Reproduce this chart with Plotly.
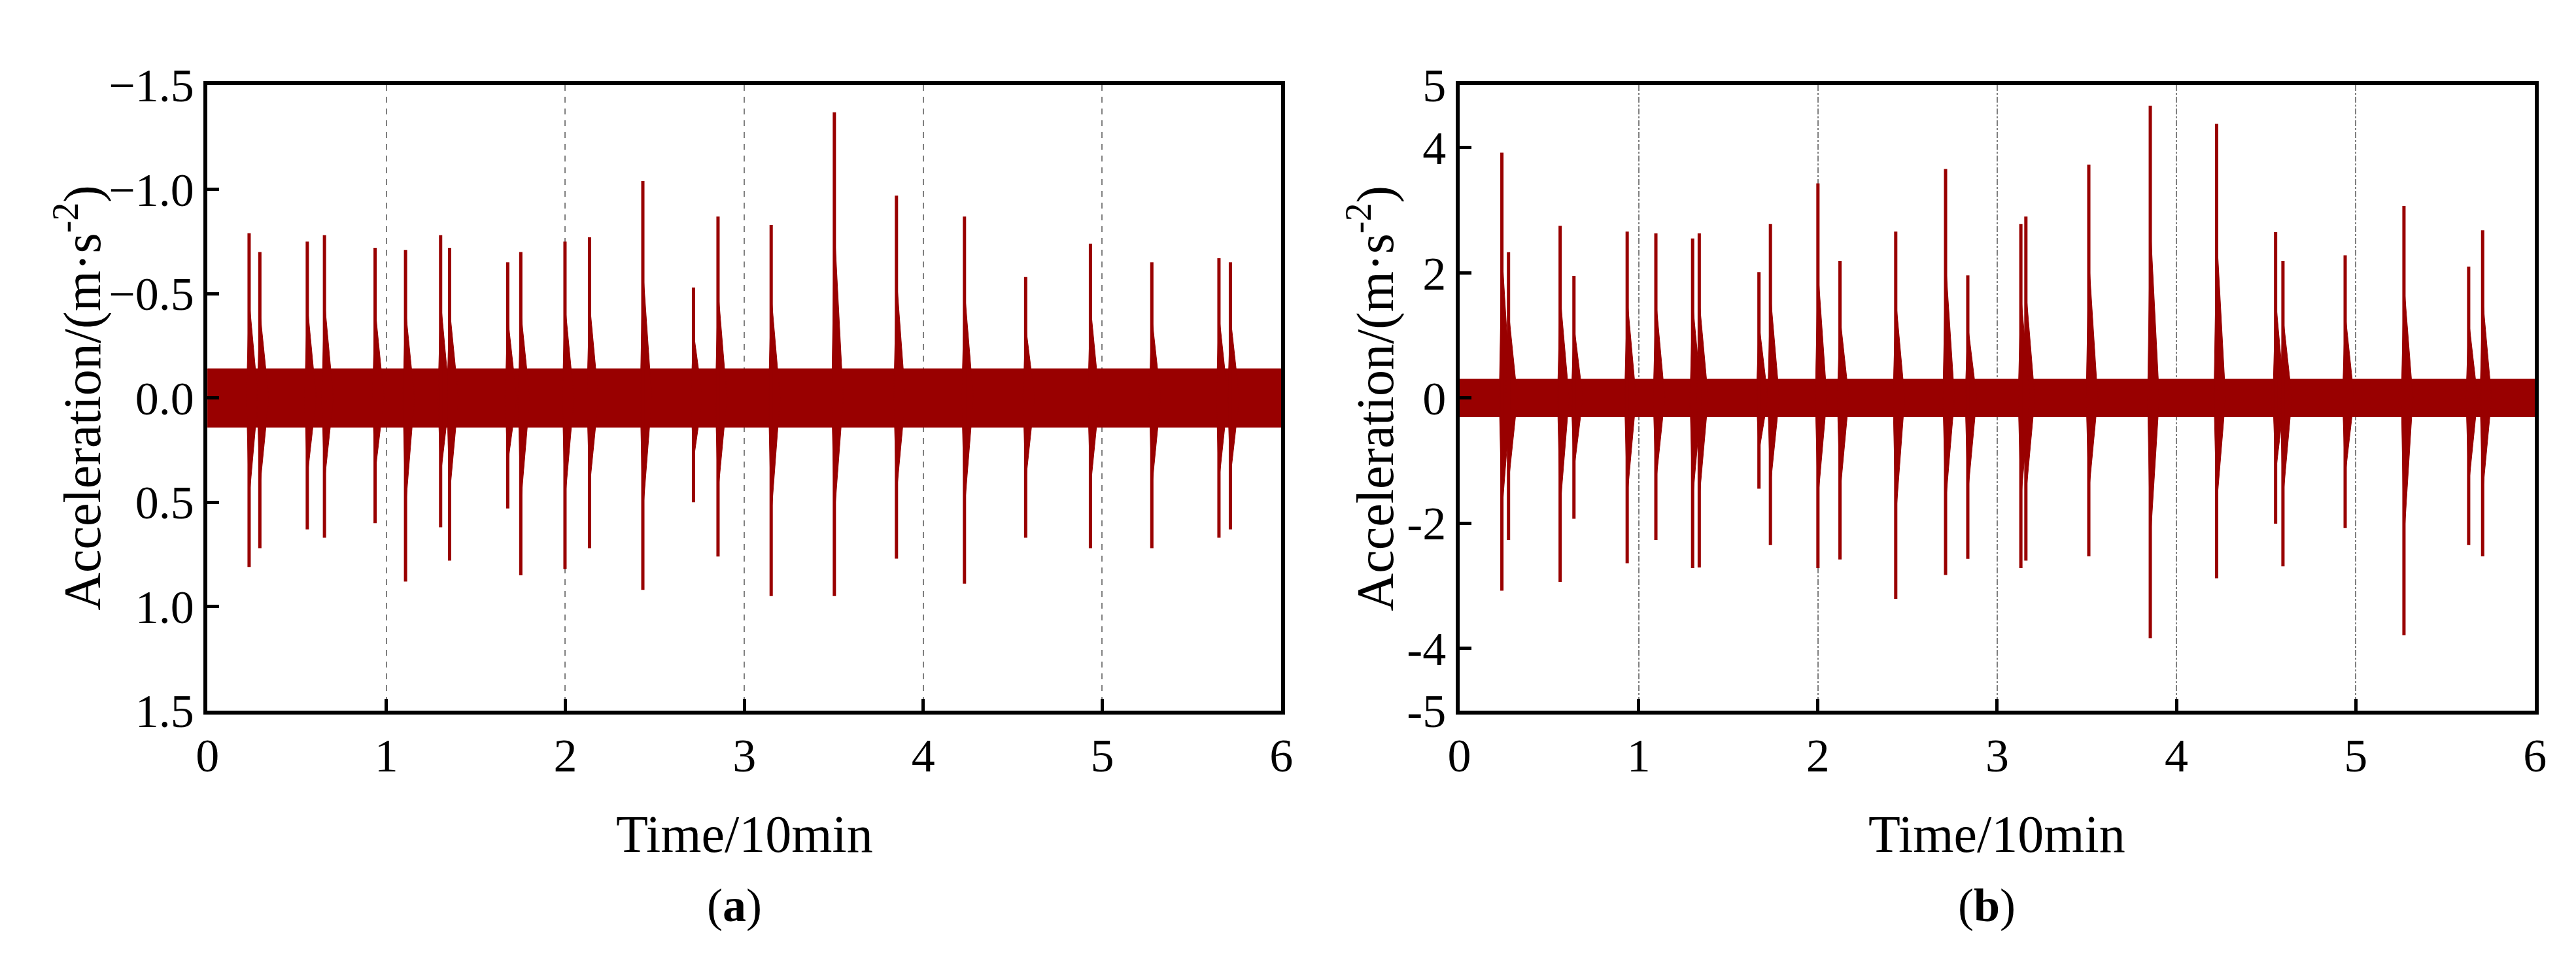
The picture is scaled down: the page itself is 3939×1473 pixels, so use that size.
import plotly.graph_objects as go

# Panel (a): burst times (10 min) and peak values (axis reversed)
a_t   = [0.233,0.293,0.558,0.654,0.937,1.107,1.303,1.353,1.678,1.751,1.998,2.135,2.433,2.716,2.853,3.150,3.503,3.850,4.230,4.572,4.934,5.277,5.652,5.716]
a_neg = [-0.79,-0.70,-0.75,-0.78,-0.72,-0.71,-0.78,-0.72,-0.65,-0.70,-0.75,-0.77,-1.04,-0.53,-0.87,-0.83,-1.37,-0.97,-0.87,-0.58,-0.74,-0.65,-0.67,-0.65]
a_pos = [0.81,0.72,0.63,0.67,0.60,0.88,0.62,0.78,0.53,0.85,0.82,0.72,0.92,0.50,0.76,0.95,0.95,0.77,0.89,0.67,0.72,0.72,0.67,0.63]
a_noise = 0.14
a_ticks = [-1.5,-1.0,-0.5,0.0,0.5,1.0,1.5]
a_ticktext = ["\u22121.5","\u22121.0","\u22120.5","0.0","0.5","1.0","1.5"]

# Panel (b)
b_t   = [0.237,0.274,0.562,0.639,0.936,1.096,1.301,1.338,1.671,1.735,2.000,2.123,2.434,2.712,2.836,3.132,3.160,3.511,3.854,4.224,4.553,4.594,4.941,5.269,5.630,5.708]
b_pos = [3.92,2.33,2.75,1.95,2.66,2.63,2.55,2.63,2.01,2.78,3.43,2.19,2.66,3.66,1.96,2.78,2.90,3.73,4.67,4.38,2.65,2.19,2.28,3.07,2.10,2.68]
b_neg = [-3.08,-2.27,-2.94,-1.93,-2.64,-2.27,-2.72,-2.71,-1.45,-2.35,-2.72,-2.58,-3.21,-2.83,-2.57,-2.72,-2.60,-2.53,-3.84,-2.88,-2.01,-2.69,-2.08,-3.79,-2.35,-2.53]
b_noise = 0.3
b_ticks = [-5,-4,-2,0,2,4,5]
b_ticktext = ["-5","-4","-2","0","2","4","5"]

x_ticks = [0,1,2,3,4,5,6]
COLOR = "#990000"
FONT = "Liberation Serif"

fig = go.Figure()

def add_panel(ts, hi, lo, noise, xa, ya):
    fig.add_trace(go.Scatter(x=[0,6,6,0,0], y=[-noise,-noise,noise,noise,-noise], fill="toself",
                             fillcolor=COLOR, line=dict(color=COLOR, width=1), mode="lines",
                             xaxis=xa, yaxis=ya, showlegend=False, hoverinfo="skip"))
    ex, ey = [], []
    for t, h, l in zip(ts, hi, lo):
        ex += [t-0.015, t, t+0.05, t+0.05, t, t-0.015, t-0.015, None]
        ey += [0, h*0.6, 0, 0, l*0.6, 0, 0, None]
    fig.add_trace(go.Scatter(x=ex, y=ey, fill="toself", fillcolor=COLOR, mode="lines",
                             line=dict(color=COLOR, width=1), xaxis=xa, yaxis=ya,
                             showlegend=False, hoverinfo="skip"))
    sx, sy = [], []
    for t, h, l in zip(ts, hi, lo):
        sx += [t, t, None]
        sy += [l, h, None]
    fig.add_trace(go.Scatter(x=sx, y=sy, mode="lines", line=dict(color=COLOR, width=5),
                             xaxis=xa, yaxis=ya, showlegend=False, hoverinfo="skip"))

add_panel(a_t, a_neg, a_pos, a_noise, "x", "y")
add_panel(b_t, b_pos, b_neg, b_noise, "x2", "y2")

ydom = [0.2532, 0.9403]
tickf = dict(family=FONT, size=72, color="black")
common_x = dict(range=[0,6], tickvals=x_ticks, ticks="inside", ticklen=18, tickwidth=5,
                tickcolor="black", showline=True, linecolor="black", linewidth=6, mirror=True,
                showgrid=True, gridcolor="#808080", gridwidth=2, zeroline=False, tickfont=tickf)
common_y = dict(ticks="inside", ticklen=18, tickwidth=5, tickcolor="black", showline=True,
                linecolor="black", linewidth=6, mirror=True, showgrid=False, zeroline=False,
                tickfont=tickf)
fig.update_layout(
    width=3939, height=1473, margin=dict(l=0, r=0, t=0, b=0),
    plot_bgcolor="white", paper_bgcolor="white",
    xaxis=dict(domain=[0.0746,0.4953], anchor="y", griddash="dash", **common_x),
    xaxis2=dict(domain=[0.5651,0.9865], anchor="y2", griddash="dashdot", **common_x),
    yaxis=dict(domain=ydom, anchor="x", range=[1.5,-1.5], tickvals=a_ticks, ticktext=a_ticktext, **common_y),
    yaxis2=dict(domain=ydom, anchor="x2", range=[-5,5], tickvals=b_ticks, ticktext=b_ticktext, **common_y),
)

tf = dict(family=FONT, size=80, color="black")
for xc in [95/3939, 2090/3939]:
    fig.add_annotation(x=xc, y=(ydom[0]+ydom[1])/2, xref="paper", yref="paper",
                       text="Acceleration/(m·s<sup>-2</sup>)", textangle=-90, showarrow=False,
                       font=tf, xanchor="center", yanchor="middle")
for xc, lab in [((0.0746+0.4953)/2, "a"), ((0.5651+0.9865)/2, "b")]:
    fig.add_annotation(x=xc, y=1-1300/1473, xref="paper", yref="paper", text="Time/10min",
                       showarrow=False, font=tf, xanchor="center", yanchor="middle")
    fig.add_annotation(x=xc - 0.004, y=1-1415/1473, xref="paper", yref="paper",
                       text="(<b>%s</b>)" % lab, showarrow=False,
                       font=dict(family=FONT, size=72, color="black"),
                       xanchor="center", yanchor="middle")

fig.write_html("out.html")
